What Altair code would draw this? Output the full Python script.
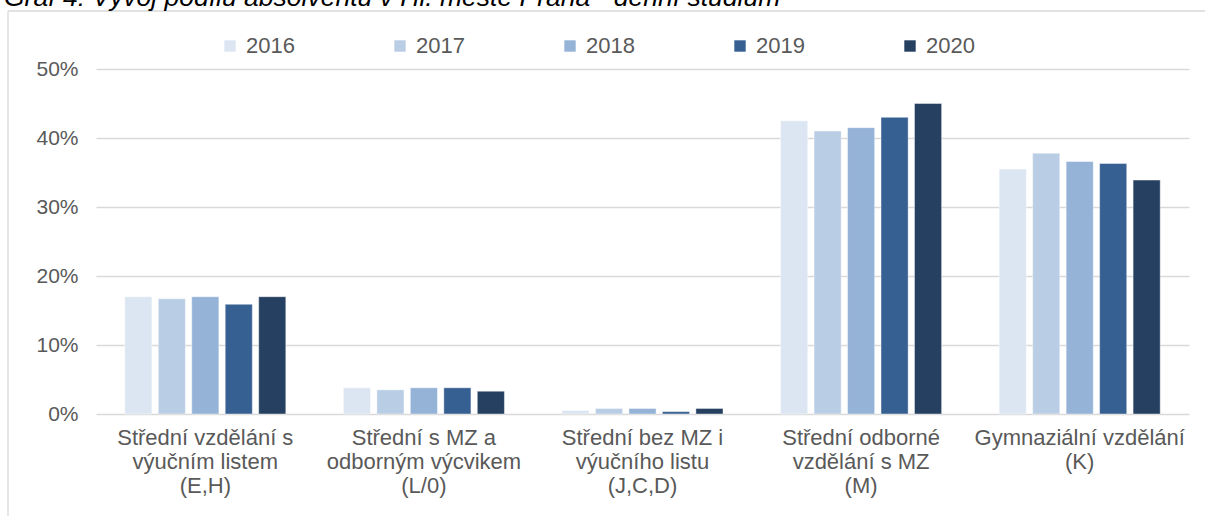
import altair as alt
import pandas as pd

title_text = "Graf 4: Vývoj podílu absolventů v Hl. městě Praha - denní studium"

years = ["2016", "2017", "2018", "2019", "2020"]
categories = [
    "Střední vzdělání s\nvýučním listem\n(E,H)",
    "Střední s MZ a\nodborným výcvikem\n(L/0)",
    "Střední bez MZ i\nvýučního listu\n(J,C,D)",
    "Střední odborné\nvzdělání s MZ\n(M)",
    "Gymnaziální vzdělání\n(K)",
]

# values in percent, one list per year, ordered as categories
v2016 = [17.0, 3.8, 0.5, 42.5, 35.5]
v2017 = [16.7, 3.5, 0.8, 41.0, 37.8]
v2018 = [17.0, 3.8, 0.8, 41.5, 36.6]
v2019 = [15.9, 3.8, 0.35, 43.0, 36.3]
v2020 = [17.0, 3.3, 0.8, 45.0, 33.9]

colors = ["#dce6f2", "#b9cde5", "#95b3d7", "#376092", "#254061"]

rows = []
for yr, vals in zip(years, [v2016, v2017, v2018, v2019, v2020]):
    for c, v in zip(categories, vals):
        rows.append({"kategorie": c, "rok": yr, "podil": v / 100})
df = pd.DataFrame(rows)

label_color = "#595959"

bars = alt.Chart(df).mark_bar(stroke="white", strokeWidth=0.6, strokeOpacity=0.7).encode(
    x=alt.X(
        "kategorie:N",
        sort=categories,
        scale=alt.Scale(paddingInner=0, paddingOuter=0),
        axis=alt.Axis(
            title=None, labelAngle=0, labelExpr="split(datum.label, '\\n')",
            labelFontSize=22, labelLineHeight=24, labelColor=label_color,
            labelPadding=13, ticks=False, domain=False, labelLimit=400,
        ),
    ),
    xOffset=alt.XOffset("rok:N", sort=years,
                        scale=alt.Scale(paddingInner=0.19, paddingOuter=0.86)),
    y=alt.Y(
        "podil:Q",
        scale=alt.Scale(domain=[0, 0.5]),
        axis=alt.Axis(
            title=None, format=".0%", values=[0, 0.1, 0.2, 0.3, 0.4, 0.5],
            grid=True, gridColor="#d9d9d9", gridWidth=1.3, ticks=False,
            domain=False, labelPadding=18, labelFontSize=21,
            labelColor=label_color,
        ),
    ),
    color=alt.Color(
        "rok:N", sort=years,
        scale=alt.Scale(domain=years, range=colors),
        legend=alt.Legend(
            title=None, orient="none", legendX=123, legendY=-34,
            direction="horizontal", columns=5, symbolType="square",
            symbolSize=130, labelFontSize=22, labelColor=label_color,
            columnPadding=94, labelOffset=5, symbolStrokeWidth=0,
        ),
    ),
)

deco = pd.DataFrame({"t": [title_text]})
title = alt.Chart(deco).mark_text(
    align="left", baseline="alphabetic", fontSize=26.5, fontStyle="italic",
    color="#000000",
).encode(text="t:N", x=alt.value(-92), y=alt.value(-63))

top_line = alt.Chart(deco).mark_rule(color="#d9d9d9", strokeWidth=1.3).encode(
    x=alt.value(-88), x2=alt.value(1109), y=alt.value(-58))
left_line = alt.Chart(deco).mark_rule(color="#d9d9d9", strokeWidth=1.3).encode(
    x=alt.value(-88), y=alt.value(-58), y2=alt.value(447))

chart = alt.layer(top_line, left_line, bars, title).properties(
    width=1093, height=345,
    autosize=alt.AutoSizeParams(type="none"),
    padding={"left": 96, "top": 69, "right": 16, "bottom": 102},
    background="white",
).configure(font="Liberation Sans").configure_view(stroke=None)

chart.save("out.html", embed_options={"renderer": "svg", "actions": False})
